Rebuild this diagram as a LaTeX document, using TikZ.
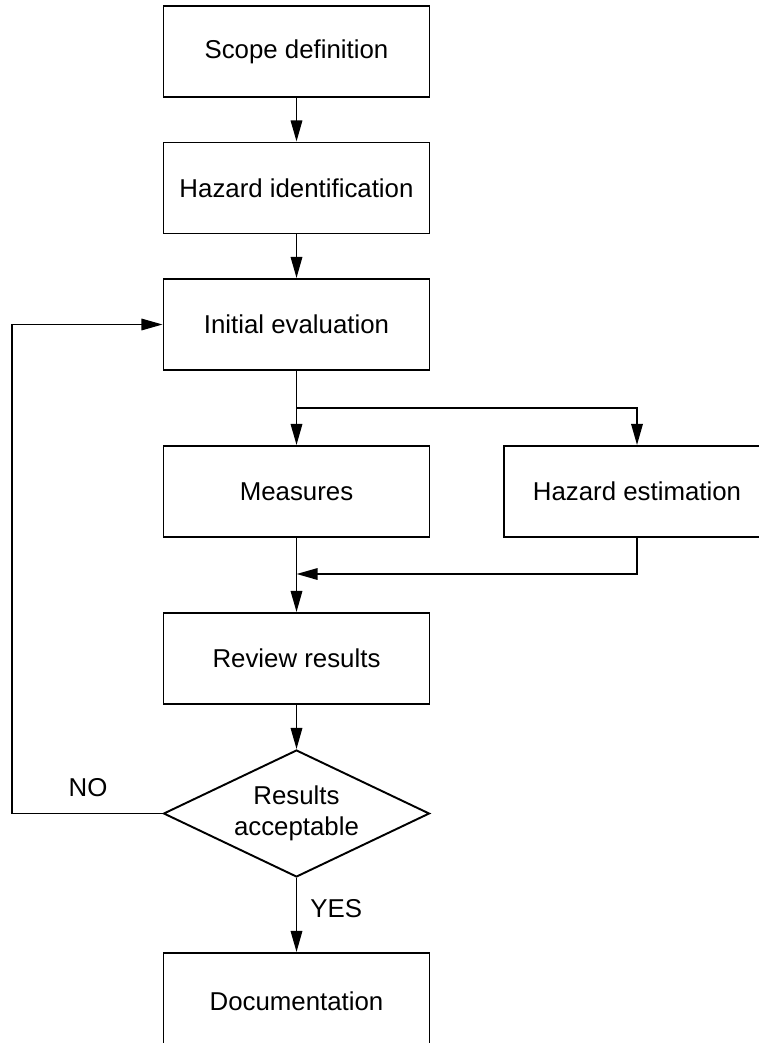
\documentclass[tikz,border=0pt]{standalone}
\usepackage{fontspec}
\setmainfont{Liberation Sans}
\usetikzlibrary{arrows.meta,shapes.geometric}
\definecolor{Ink}{HTML}{000000}

\begin{document}
\begin{tikzpicture}[x=0.02cm,y=-0.02cm,line width=1.1pt,
  every node/.style={text=Ink,font=\fontsize{14.7pt}{17.5pt}\selectfont},
  procbox/.style={draw=Ink,rectangle,minimum width=5.32cm,minimum height=1.82cm,inner sep=0pt},
  decision/.style={draw=Ink,diamond,aspect=2.1,minimum width=5.32cm,minimum height=2.54cm,inner sep=0pt,align=center},
  flow/.style={draw=Ink,-{Triangle[length=12pt,width=6.5pt]}}]
\useasboundingbox (0,0) rectangle (758,1043);
\node[procbox] (scope) at (296.5,51.5){Scope definition};
\node[procbox] (hazid) at (296.5,188){Hazard identification};
\node[procbox] (init) at (296.5,324.5){Initial evaluation};
\node[procbox] (meas) at (296.5,491.5){Measures};
\node[procbox] (hazest) at (637,491.5){Hazard estimation};
\node[procbox] (review) at (296.5,658.5){Review results};
\node[decision] (check) at (296.5,813.5){Results\\acceptable};
\node[procbox,minimum height=1.92cm] (docu) at (296.5,1001){Documentation};
\coordinate (split) at (296.5,408);\coordinate (merge) at (296.5,574);\coordinate (loop) at (12,813.5);
\draw[flow] (scope)--(hazid);\draw[flow] (hazid)--(init);\draw[flow] (init)--(meas);
\draw[flow] (split)-|(hazest.north);\draw[flow] (hazest.south)|-(merge);
\draw[flow] (meas)--(review);\draw[flow] (review)--(check.north);
\draw[flow] (check.south)--node[right,xshift=4pt,pos=0.41]{YES}(docu.north);
\draw[flow] (check.west)--(loop)|-(init.west);
\node (no) at (88,788){NO};
\end{tikzpicture}
\end{document}
